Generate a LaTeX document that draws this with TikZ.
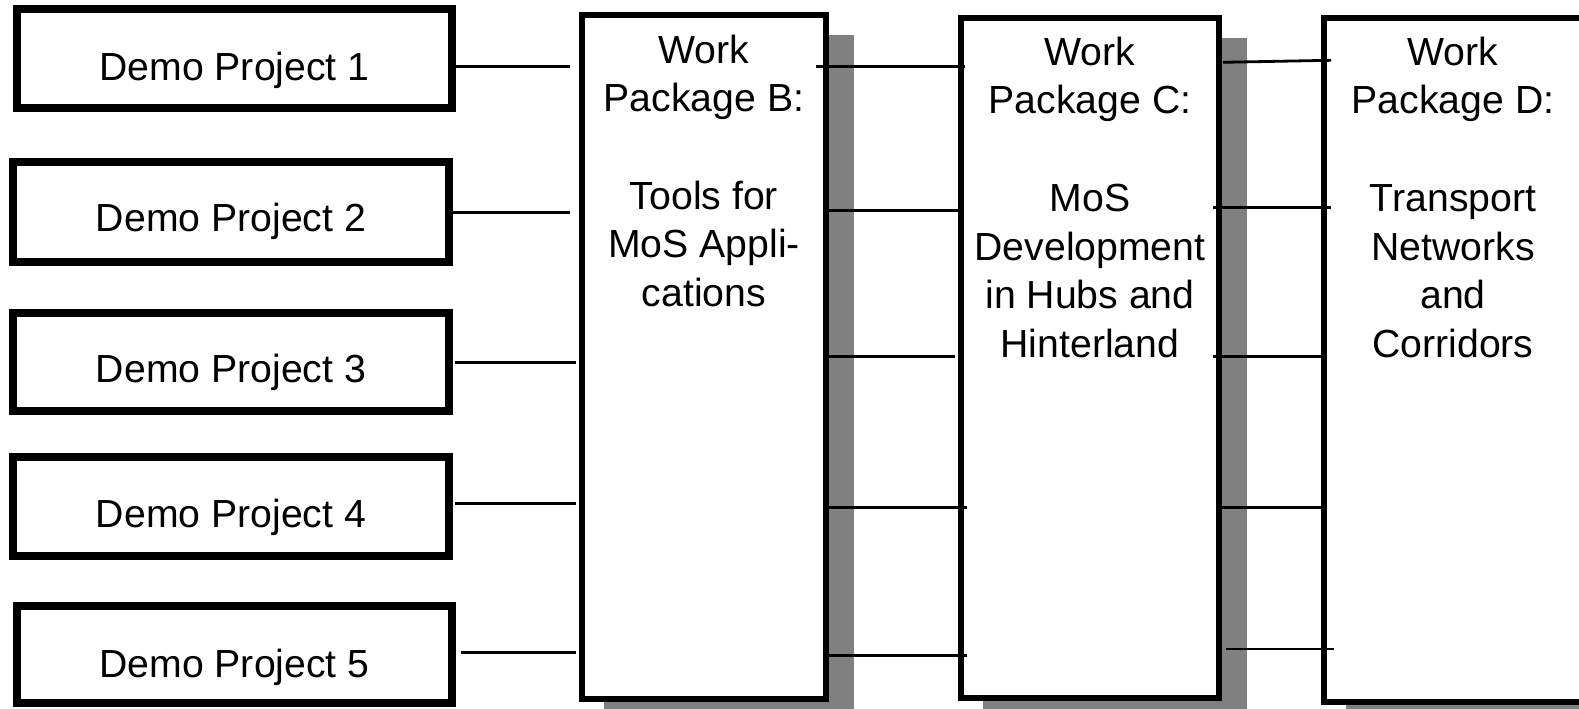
\documentclass[tikz,border=0pt]{standalone}
\usepackage{fontspec}
\setmainfont{Liberation Sans}
\usetikzlibrary{calc}
\pgfdeclarelayer{background}
\pgfsetlayers{background,main}
\definecolor{shadowgray}{HTML}{808080}
\tikzset{
  demobox/.style={draw, line width=4.2pt, fill=white, inner sep=0pt, outer sep=0pt},
  wpbox/.style={draw, line width=3pt, fill=white, inner sep=0pt, outer sep=0pt},
  wptext/.style={align=center, inner sep=0pt, anchor=north},
  dptext/.style={inner sep=0pt, anchor=base},
  conn/.style={line width=1.4pt},
  shadowfill/.style={fill=shadowgray}
}
\begin{document}
\begin{tikzpicture}[x=0.5pt,y=-0.5pt, font=\fontsize{19.6pt}{24.35pt}\selectfont]
\useasboundingbox (0,0) rectangle (1579,708);

% work package boxes
\node[wpbox, minimum width=122pt, minimum height=342pt] (wpB) at (704,357) {};
\node[wpbox, minimum width=129pt, minimum height=340pt] (wpC) at (1090,358) {};
\node[wpbox, minimum width=129pt, minimum height=342pt] (wpD) at (1453,360) {};

\begin{pgfonlayer}{background}
\foreach \n in {wpB,wpC,wpD}
  \fill[shadowfill] ($(\n.north west)+(21.5,19.5)$) rectangle ($(\n.south east)+(27.5,25.5)$);
\end{pgfonlayer}

\node[wptext] (tB) at ($(wpB.north)+(0,19.3)$) {Work\\Package B:\\[24.35pt]Tools for\\MoS Appli-\\cations};
\node[wptext] (tC) at ($(wpC.north)+(0,18.4)$) {Work\\Package C:\\[24.35pt]MoS\\Development\\in Hubs and\\Hinterland};
\node[wptext] (tD) at ($(wpD.north)+(0,18.4)$) {Work\\Package D:\\[24.35pt]Transport\\Networks\\and\\Corridors};

% demo project boxes
\node[demobox, minimum width=217.5pt, minimum height=49.5pt] (dp1) at (234.5,58.5) {};
\node[demobox, minimum width=218pt, minimum height=50pt] (dp2) at (231,212) {};
\node[demobox, minimum width=218pt, minimum height=49pt] (dp3) at (231,362) {};
\node[demobox, minimum width=218pt, minimum height=49.5pt] (dp4) at (231,506.5) {};
\node[demobox, minimum width=217.5pt, minimum height=48.5pt] (dp5) at (234.5,654.5) {};

\node[dptext] (t1) at ($(dp1.center)+(0,22)$) {Demo Project 1};
\node[dptext] (t2) at ($(dp2.center)+(0,19.6)$) {Demo Project 2};
\node[dptext] (t3) at ($(dp3.center)+(0,20.7)$) {Demo Project 3};
\node[dptext] (t4) at ($(dp4.center)+(0,21.2)$) {Demo Project 4};
\node[dptext] (t5) at ($(dp5.center)+(0,23.2)$) {Demo Project 5};

% demo projects to WP B
\draw[conn] ($(dp1.east)+(-2,8)$) -- ($(wpB.west)+(-12,-290.5)$);
\draw[conn] ($(dp2.east)+(4,0.5)$) -- ($(wpB.west)+(-12,-144.5)$);
\draw[conn] ($(dp3.east)+(6,0.5)$) -- ($(wpB.west)+(-6,5.5)$);
\draw[conn] ($(dp4.east)+(6,-3)$) -- ($(wpB.west)+(-6,146.5)$);
\draw[conn] ($(dp5.east)+(9,-2)$) -- ($(wpB.west)+(-6,295.5)$);

% WP B to WP C
\draw[conn] ($(wpB.east)+(-10,-290.5)$) -- ($(wpC.west)+(4,-291.5)$);
\draw[conn] ($(wpB.east)+(3,-146.5)$) -- ($(wpC.west)+(-3,-147.5)$);
\draw[conn] ($(wpB.east)+(2,-0.5)$) -- ($(wpC.west)+(-6,-1.5)$);
\draw[conn] ($(wpB.east)+(-3,150.5)$) -- ($(wpC.west)+(6,149.5)$);
\draw[conn] ($(wpB.east)+(-3,298.5)$) -- ($(wpC.west)+(6,297.5)$);

% WP C to WP D
\draw[conn] ($(wpC.east)+(4,-295.7)$) -- ($(wpD.west)+(7,-299.7)$);
\draw[conn] ($(wpC.east)+(-6,-150.7)$) -- ($(wpD.west)+(7,-152.7)$);
\draw[conn] ($(wpC.east)+(-6,-1.5)$) -- ($(wpD.west)+(-2,-3.5)$);
\draw[conn] ($(wpC.east)+(-3,149.5)$) -- ($(wpD.west)+(-2,147.5)$);
\draw[conn] ($(wpC.east)+(7,291)$) -- ($(wpD.west)+(10,289)$);
\end{tikzpicture}
\end{document}
